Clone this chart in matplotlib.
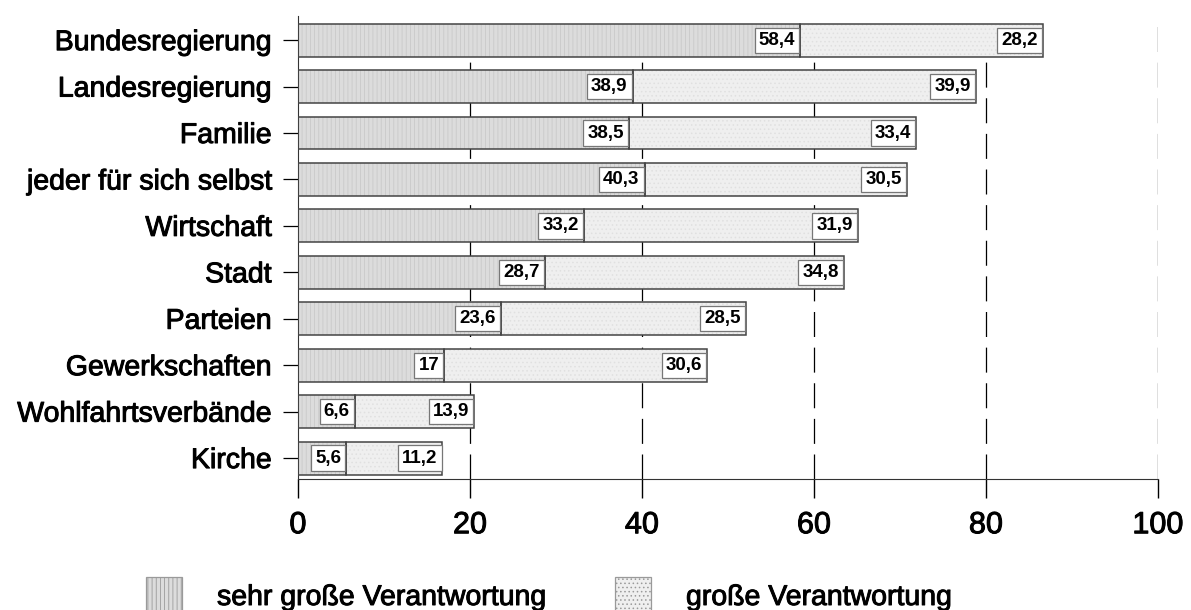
import matplotlib
matplotlib.use("Agg")
import matplotlib.pyplot as plt
import matplotlib.patheffects as pe
from matplotlib.patches import Rectangle
import numpy as np

plt.rcParams['font.family'] = ['Liberation Sans', 'DejaVu Sans']
plt.rcParams['hatch.linewidth'] = 0.6

# Verantwortung fuer ... (Angaben in %)
categories = ["Bundesregierung", "Landesregierung", "Familie", "jeder für sich selbst",
              "Wirtschaft", "Stadt", "Parteien", "Gewerkschaften",
              "Wohlfahrtsverbände", "Kirche"]
sehr_gross = [58.4, 38.9, 38.5, 40.3, 33.2, 28.7, 23.6, 17.0, 6.6, 5.6]
gross = [28.2, 39.9, 33.4, 30.5, 31.9, 34.8, 28.5, 30.6, 13.9, 11.2]
series_names = ["sehr große Verantwortung", "große Verantwortung"]
xticks = [0, 20, 40, 60, 80, 100]


def fmt(v):
    return ("%.1f" % v).replace(".", ",").replace(",0", "")


heavy = [pe.withStroke(linewidth=0.7, foreground="black")]

fig = plt.figure(figsize=(11.91, 6.10), dpi=100)
ax = fig.add_axes([0.2502, 0.2148, 0.7221, 0.7590])

y = np.arange(len(categories))
h = 0.71
c1, c2 = "#dcdcdc", "#efefef"
hc1, hc2 = "#c9c9c9", "#e0e0e0"

# grey fills with a fine texture, outline drawn separately on top
ax.barh(y, sehr_gross, height=h, color=c1, hatch="||||", edgecolor=hc1,
        linewidth=0, zorder=2)
ax.barh(y, gross, left=sehr_gross, height=h, color=c2, hatch="....",
        edgecolor=hc2, linewidth=0, zorder=2)
ax.barh(y, sehr_gross, height=h, fill=False, edgecolor="#444444", linewidth=1.1, zorder=3)
ax.barh(y, gross, left=sehr_gross, height=h, fill=False, edgecolor="#444444",
        linewidth=1.1, zorder=3)

# value boxes at the right end of each segment
for yi, a, b in zip(y, sehr_gross, gross):
    for end, v in ((a, a), (a + b, b)):
        ax.annotate(fmt(v), xy=(end, yi), xytext=(-3.6, 0), textcoords="offset points",
                    ha="right", va="center", fontsize=13.5, fontweight="bold",
                    bbox=dict(boxstyle="square,pad=0.22", fc="white", ec="#777777", lw=0.9),
                    zorder=4)

ax.set_xlim(0, 100)
ax.set_ylim(9.45, -0.52)
ax.set_xticks(xticks)
ax.set_xticklabels([str(t) for t in xticks], fontsize=22, path_effects=heavy)
ax.set_yticks(y)
ax.set_yticklabels(categories, fontsize=20.5, path_effects=heavy)

for t in xticks[1:]:
    ax.axvline(t, color="black", lw=0.9, ls=(0, (20, 8.5)), zorder=1)

ax.tick_params(axis="x", direction="out", length=13.5, width=1, pad=9)
ax.tick_params(axis="y", direction="out", length=11, width=0.9, pad=8)
for s in ("top", "right"):
    ax.spines[s].set_visible(False)
ax.spines["bottom"].set_color("#333333")
ax.spines["left"].set_color("#333333")
ax.spines["left"].set_linewidth(0.8)

# legend row along the bottom edge
W, H = 1191.0, 610.0
legend_items = [(146, c1, hc1, "||||"), (615, c2, hc2, "....")]
for (x0, fc, hc, hatch), name in zip(legend_items, series_names):
    fig.add_artist(Rectangle((x0 / W, -0.02), 36 / W, 0.02 + 33 / H, transform=fig.transFigure,
                             facecolor=fc, edgecolor="#9a9a9a", hatch=hatch, lw=0.9))
    fig.text((x0 + 71) / W, 5 / H, name, fontsize=20.5, va="baseline", ha="left",
             path_effects=heavy)

fig.savefig("out.png", dpi=100)
